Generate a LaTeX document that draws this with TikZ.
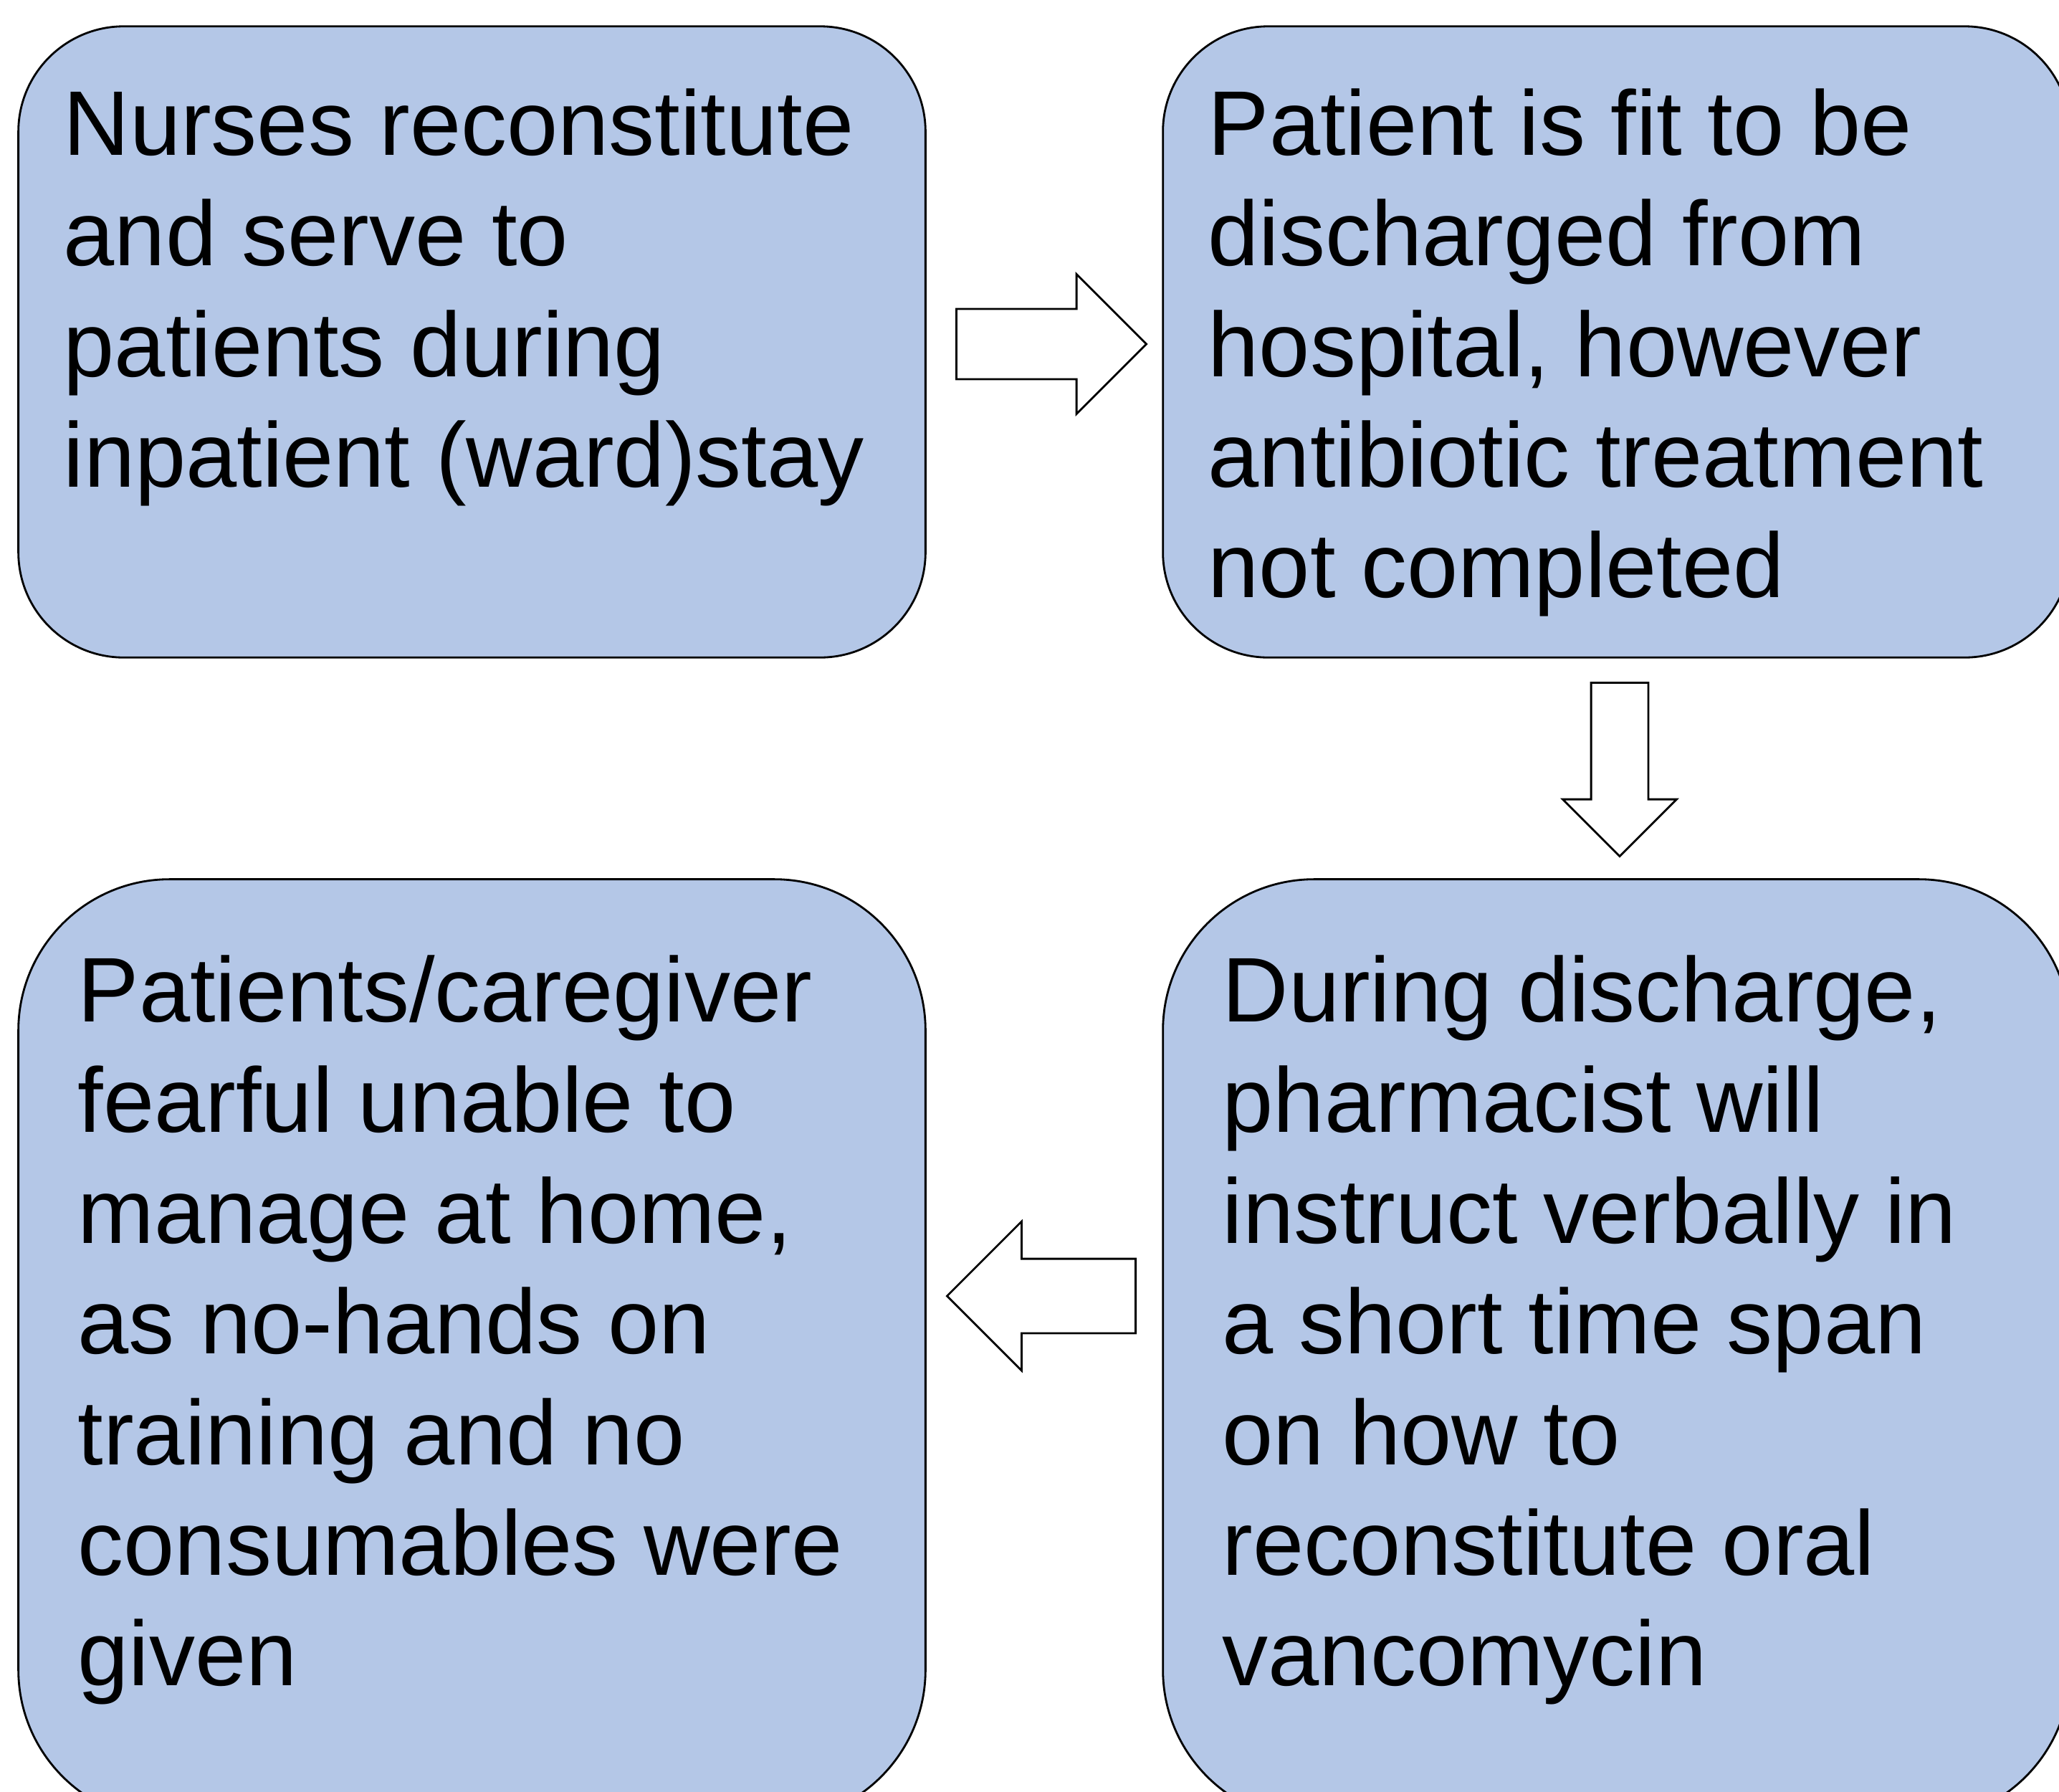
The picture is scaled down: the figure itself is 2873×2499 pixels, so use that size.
\documentclass[tikz,border=0pt]{standalone}
\usepackage{fontspec}
\setmainfont{Liberation Sans}
\usetikzlibrary{shapes.arrows}
\usepackage{xcolor}
\definecolor{boxblue}{RGB}{180,199,231}

\begin{document}
\begin{tikzpicture}[x=0.01cm,y=-0.01cm]
      \tikzstyle{box}=[draw,line width=0.8pt,fill=boxblue,rectangle,inner sep=0pt,minimum width=12.65cm]
      \tikzstyle{txt}=[anchor=north west,inner sep=0pt,align=left,font=\fontsize{36.4pt}{43.9pt}\selectfont]
      \tikzstyle{blk}=[draw,line width=0.8pt,fill=white,single arrow,inner sep=0pt,single arrow head indent=0pt,text depth=0pt,anchor=tail]
      \useasboundingbox (0,0) rectangle (2873,2499);
      \clip (0,0) rectangle (2873,2499);

      \node[box,minimum height=8.8cm,rounded corners=1.47cm]   (b1) at (658.5,477)    {};
      \node[box,minimum height=8.8cm,rounded corners=1.47cm]   (b2) at (2255.5,477)   {};
      \node[box,minimum height=13.13cm,rounded corners=2.11cm] (b3) at (658.5,1883.5) {};
      \node[box,minimum height=13.13cm,rounded corners=2.11cm] (b4) at (2255.5,1883.5) {};

      \node[txt] (t1) at (88,123)    {Nurses reconstitute\\and serve to\\patients during\\inpatient (ward)stay};
      \node[txt] (t2) at (1685,123)  {Patient is fit to be\\discharged from\\hospital, however\\antibiotic treatment\\not completed};
      \node[txt] (t3) at (108,1332)  {Patients/caregiver\\fearful unable to\\manage at home,\\as no-hands on\\training and no\\consumables were\\given};
      \node[txt] (t4) at (1705,1332) {During discharge,\\pharmacist will\\instruct verbally in\\a short time span\\on how to\\reconstitute oral\\vancomycin};

      \node[blk,text height=0.95cm,minimum height=2.65cm,single arrow head extend=0.485cm] (a12) at (1333,480) {};
      \node[blk,rotate=-90,text height=0.77cm,minimum height=2.42cm,single arrow head extend=0.395cm] (a24) at (2260,951) {};
      \node[blk,rotate=180,text height=1.01cm,minimum height=2.63cm,single arrow head extend=0.52cm] (a43) at (1586,1808) {};
\end{tikzpicture}
\end{document}
